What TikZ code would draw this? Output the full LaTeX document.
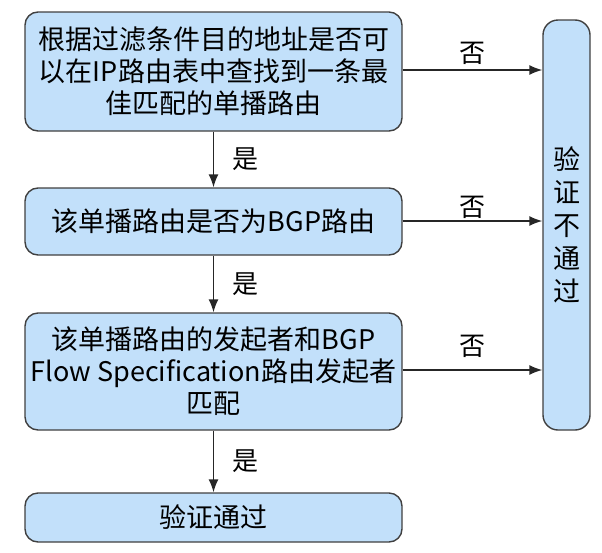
\documentclass[tikz,border=0pt]{standalone}
\usepackage{fontspec}
\setmainfont{Noto Sans CJK SC}
\usetikzlibrary{arrows.meta}
\definecolor{boxfill}{HTML}{C2E0FA}
\definecolor{boxdraw}{HTML}{404040}
\definecolor{conndraw}{HTML}{262626}
\tikzset{
  box/.style={draw=boxdraw, fill=boxfill, line width=1.4pt, rounded corners=13pt,
    align=center, inner sep=0pt, font=\fontsize{27}{32}\selectfont},
  conn/.style={draw=conndraw, line width=1.4pt, -{Latex[length=13pt,width=10pt]}},
  lbl/.style={font=\fontsize{26}{30}\selectfont, inner sep=0pt}
}
\begin{document}
\begin{tikzpicture}[x=1pt,y=-1pt]
\useasboundingbox (0,0) rectangle (602,552);
\node[box, minimum width=377pt, minimum height=119pt] (b1) at (213.5,71.5)
  {根据过滤条件目的地址是否可\\以在IP路由表中查找到一条最\\佳匹配的单播路由};
\node[box, minimum width=377pt, minimum height=67pt] (b2) at (213.5,221.5)
  {该单播路由是否为BGP路由};
\node[box, minimum width=377pt, minimum height=117pt] (b3) at (213.5,371.5)
  {该单播路由的发起者和BGP\\Flow Specification路由发起者\\匹配};
\node[box, minimum width=377pt, minimum height=49pt] (b4) at (213.5,517.5)
  {验证通过};
\node[box, rounded corners=15pt, minimum width=47pt, minimum height=410pt,
  font=\fontsize{27}{33}\selectfont] (r) at (566.5,225)
  {验\\证\\不\\通\\过};
\draw[conn] (b1) -- node[lbl, right=18pt] {是} (b2);
\draw[conn] (b2) -- node[lbl, right=18pt] {是} (b3);
\draw[conn] (b3) -- node[lbl, right=18pt] {是} (b4);
\draw[conn] (b1.east |- 0,70) -- node[lbl, above=5pt] {否} (r.west |- 0,70);
\draw[conn] (b2.east |- 0,221) -- node[lbl, above=2pt] {否} (r.west |- 0,221);
\draw[conn] (b3.east |- 0,370) -- node[lbl, above=12pt] {否} (r.west |- 0,370);
\end{tikzpicture}
\end{document}
